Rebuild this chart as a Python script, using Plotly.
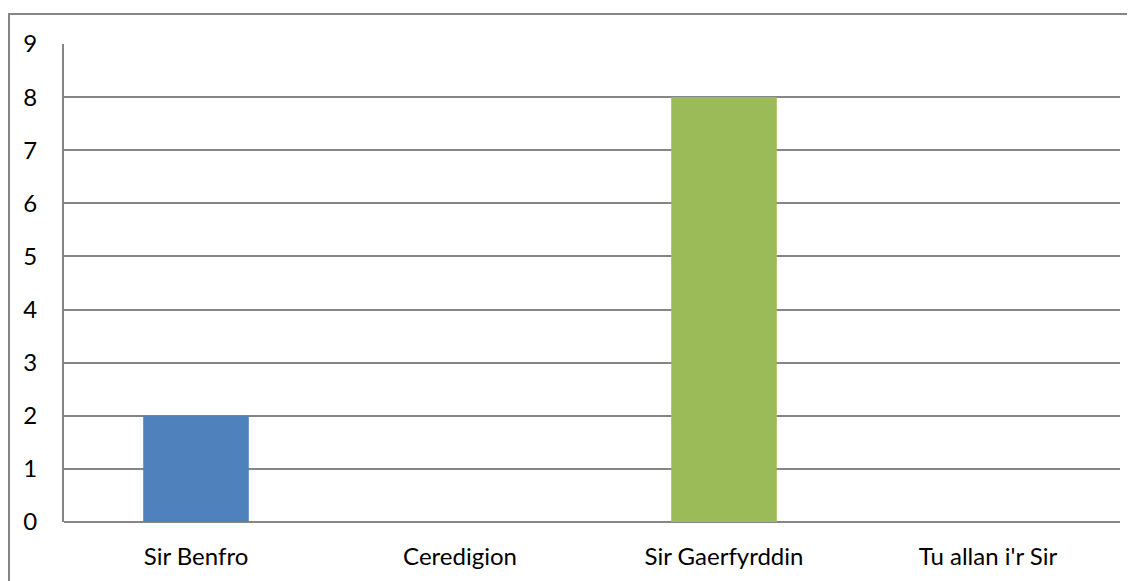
import plotly.graph_objects as go

categories = ["Sir Benfro", "Ceredigion", "Sir Gaerfyrddin", "Tu allan i'r Sir"]
values = [2, 0, 8, 0]
bar_colors = ["#4F81BD", "#C0504D", "#9BBB59", "#8064A2"]
y_ticks = [0, 1, 2, 3, 4, 5, 6, 7, 8, 9]

fig = go.Figure(
    go.Bar(
        x=categories,
        y=values,
        marker=dict(color=bar_colors, line=dict(width=0)),
        width=0.4,
    )
)

OFF = 8  # default page body margin
W, H = 1135 - OFF, 581 - OFF
ml, mr, mt, mb = 64 - OFF, 15, 44 - OFF, 59
pw = W - ml - mr
ph = H - mt - mb

fig.update_layout(
    width=W,
    height=H,
    margin=dict(l=ml, r=mr, t=mt, b=mb),
    paper_bgcolor="white",
    plot_bgcolor="white",
    showlegend=False,
    font=dict(family="Lato, Carlito, sans-serif", size=24, color="black"),
    xaxis=dict(
        showgrid=False,
        showline=False,
        ticks="",
        tickfont=dict(size=24),
        ticklabelstandoff=18,
        range=[-0.5, 3.5],
    ),
    yaxis=dict(
        range=[0, 9],
        tickvals=y_ticks,
        showgrid=True,
        gridcolor="#868686",
        gridwidth=2,
        showline=True,
        linecolor="#868686",
        linewidth=2,
        zeroline=True,
        zerolinecolor="#868686",
        zerolinewidth=2,
        ticks="",
        ticklabelstandoff=20,
        tickfont=dict(size=24),
    ),
    shapes=[
        dict(
            type="rect",
            xref="paper",
            yref="paper",
            x0=(9 - OFF - ml) / pw,
            x1=(W + 10 - ml) / pw,
            y0=(H - mb - (H + 10)) / ph,
            y1=(H - mb - (14 - OFF)) / ph,
            line=dict(color="#868686", width=2),
            fillcolor="rgba(0,0,0,0)",
            layer="above",
        )
    ],
)

fig.write_html("out.html")
